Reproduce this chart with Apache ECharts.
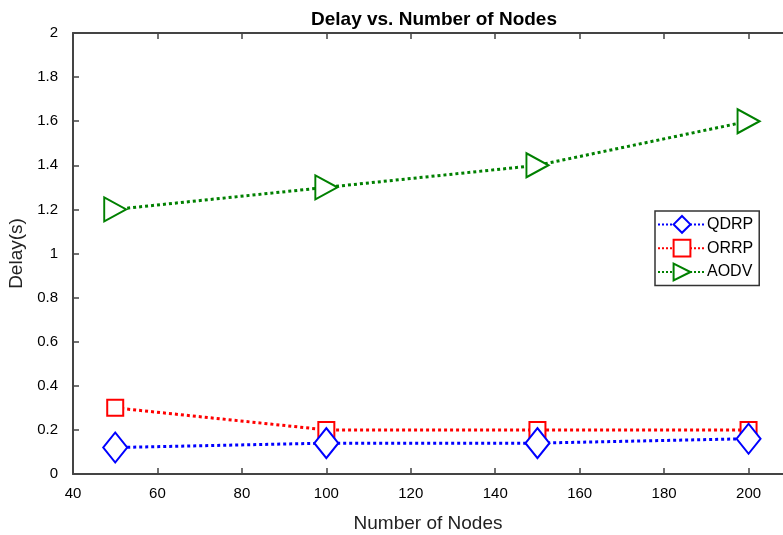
<!DOCTYPE html>
<html>
<head>
<meta charset="utf-8">
<script src="https://cdn.jsdelivr.net/npm/echarts@6/dist/echarts.min.js"></script>
<style>
  html, body { margin: 0; padding: 0; background: #fff; }
  #chart { width: 783px; height: 535px; }
</style>
</head>
<body>
<div id="chart"></div>
<script>
// node counts on the x axis
const nodes = [50, 100, 150, 200]

// delay values per protocol (seconds)
const qdrp = [0.12, 0.14, 0.14, 0.16]
const orrp = [0.3, 0.2, 0.2, 0.2]
const aodv = [1.2, 1.3, 1.4, 1.6]

const seriesNames = ['QDRP', 'ORRP', 'AODV']

const FONT = '"Liberation Sans", Arial, sans-serif'

const pair = (vals) => nodes.map((n, i) => [n, vals[i]])

const axisLine = { lineStyle: { color: '#444', width: 2 } }
const tick = { inside: true, length: 6, lineStyle: { color: '#444', width: 1.5 } }

const chart = echarts.init(document.getElementById('chart'))

chart.setOption({
  backgroundColor: '#fff',
  animation: false,
  textStyle: { fontFamily: FONT },
  title: {
    text: 'Delay vs. Number of Nodes',
    left: 429,
    top: 5,
    textAlign: 'center',
    textStyle: { fontFamily: FONT, fontWeight: 'bold', fontSize: 19, color: '#000' },
  },
  // plot box runs past the right edge (x max 220 is cut off in the original)
  grid: { left: 73, top: 33, width: 760, bottom: 61, outerBoundsMode: 'none', containLabel: false },
  legend: {
    data: seriesNames,
    orient: 'vertical',
    left: 655,
    top: 211,
    itemWidth: 48,
    itemHeight: 21,
    itemGap: 5,
    padding: [4, 6, 4, 2],
    borderColor: '#333',
    borderWidth: 1.5,
    backgroundColor: '#fff',
    textStyle: { fontFamily: FONT, fontSize: 16, color: '#000', padding: [0, 0, 0, -4] },
  },
  xAxis: [
    {
      type: 'value',
      min: 40,
      max: 220,
      interval: 20,
      name: 'Number of Nodes',
      nameLocation: 'middle',
      nameGap: 40,
      nameTextStyle: { fontFamily: FONT, fontSize: 19, color: '#222', padding: [0, 50, 0, 0] },
      axisLine: axisLine,
      axisTick: tick,
      axisLabel: { fontFamily: FONT, fontSize: 15, color: '#000', margin: 12 },
      splitLine: { show: false },
    },
    {
      type: 'value',
      position: 'top',
      min: 40,
      max: 220,
      interval: 20,
      axisLine: axisLine,
      axisTick: tick,
      axisLabel: { show: false },
      splitLine: { show: false },
    },
  ],
  yAxis: {
    type: 'value',
    min: 0,
    max: 2,
    interval: 0.2,
    name: 'Delay(s)',
    nameLocation: 'middle',
    nameGap: 45,
    nameTextStyle: { fontFamily: FONT, fontSize: 19, color: '#222' },
    axisLine: { show: true, lineStyle: { color: '#444', width: 2 } },
    axisTick: { show: true, ...tick },
    axisLabel: { fontFamily: FONT, fontSize: 15, color: '#000', margin: 15 },
    splitLine: { show: false },
  },
  series: [
    {
      name: 'QDRP',
      type: 'line',
      data: pair(qdrp),
      symbol: 'emptyDiamond',
      symbolSize: [24, 30],
      itemStyle: { color: '#0000ff', borderWidth: 3 },
      lineStyle: { color: '#0000ff', type: 'dotted', width: 3 },
      z: 3,
    },
    {
      name: 'ORRP',
      type: 'line',
      data: pair(orrp),
      symbol: 'emptyRect',
      symbolSize: 16,
      itemStyle: { color: '#ff0000', borderWidth: 2.5 },
      lineStyle: { color: '#ff0000', type: 'dotted', width: 3 },
      z: 2,
    },
    {
      name: 'AODV',
      type: 'line',
      data: pair(aodv),
      symbol: 'emptyTriangle',
      symbolRotate: -90,
      symbolSize: [24, 22],
      itemStyle: { color: '#008000', borderWidth: 3 },
      lineStyle: { color: '#008000', type: 'dotted', width: 3 },
    },
  ],
})
</script>
</body>
</html>
